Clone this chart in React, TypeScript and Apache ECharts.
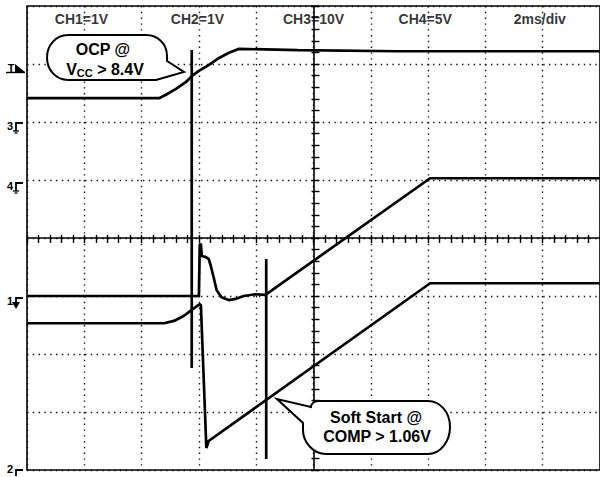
import React, { useEffect, useRef } from "react";
import * as echarts from "echarts";

const FONT = "'Liberation Sans', Arial, Helvetica, sans-serif";

// Horizontal axis: time in ms (2 ms/div, 10 div). Vertical axis: screen divisions (-4..4).
const headerLabels = ["CH1=1V", "CH2=1V", "CH3=10V", "CH4=5V", "2ms/div"];
const headerT = [-8.1, -4.05, 0, 3.9, 7.9];
const headerY = 3.78;

// CH3 (Vcc)
const ch3T = [-10, -5.39, -5.15, -4.8, -4.45, -4.25, -4.0, -3.66, -3.31, -2.97, -2.62, -0.54, 2.93, 10];
const ch3Y = [2.41, 2.41, 2.47, 2.57, 2.69, 2.79, 2.88, 2.98, 3.1, 3.19, 3.26, 3.24, 3.22, 3.22];

// upper ramp trace
const chAT = [-10, -4.0, -3.97, -3.93, -3.9, -3.76, -3.66, -3.59, -3.48, -3.38, -3.21, -2.96, -2.72, -2.44, -2.03, -1.68, 4.07, 10];
const chAY = [-1.0, -1.0, -0.12, -0.1, -0.31, -0.33, -0.36, -0.47, -0.69, -0.9, -1.02, -1.07, -1.05, -1.0, -0.97, -0.98, 1.03, 1.03];

// lower ramp trace
const chBT = [-10, -5.22, -4.87, -4.52, -4.25, -3.97, -3.93, -3.74, -3.66, 4.07, 10];
const chBY = [-1.47, -1.47, -1.43, -1.34, -1.24, -1.14, -1.16, -3.62, -3.5, -0.78, -0.78];

// cursors
const cursorT = [-4.25, -1.65];
const cursorTop = [3.24, -0.36];
const cursorBottom = [-2.24, -3.81];

const zip = (a: number[], b: number[]) => a.map((v, i) => [v, b[i]]);

echarts.graphic.registerShape(
  "ocpBubble",
  echarts.graphic.extendPath(
    "M 68 35 L 146 35 C 158 35 167 44 167 56 L 167 61 L 184 72 L 156 80 L 68 80 C 56 80 47 70 47 57.5 C 47 45 56 35 68 35 Z",
    {}
  )
);
echarts.graphic.registerShape(
  "ssBubble",
  echarts.graphic.extendPath(
    "M 318 401 L 428 401 C 440 401 450 412 450 427 C 450 442 440 454 428 454 L 326 454 C 313 454 303 442 303 430 L 303 423 L 277 399 L 311 407 C 311 404 314 401 318 401 Z",
    {}
  )
);

function marker(y: number, label: string, kind: string, labelY?: number): any[] {
  const els: any[] = [
    {
      type: "text",
      x: 10,
      y: labelY ?? y + 3,
      style: { text: label, font: `bold 11px ${FONT}`, fill: "#000", align: "center", verticalAlign: "middle" },
    },
    {
      type: "polyline",
      shape: { points: [[23, y], [16, y], [16, y + (kind === "none" ? 6 : 8)]] },
      style: { stroke: "#000", lineWidth: 1.8, fill: "none" },
    },
  ];
  if (kind === "gnd") {
    els.push({ type: "line", shape: { x1: 13, y1: y + 8, x2: 19, y2: y + 8 }, style: { stroke: "#000", lineWidth: 1.3 } });
    els.push({ type: "line", shape: { x1: 14.5, y1: y + 10, x2: 17.5, y2: y + 10 }, style: { stroke: "#000", lineWidth: 1.3 } });
  } else if (kind === "arrow") {
    els.push({ type: "polygon", shape: { points: [[12, y + 4], [20, y + 4], [16, y + 11]] }, style: { fill: "#000" } });
  }
  return els;
}

const hidden = {
  axisLine: { show: false },
  axisTick: { show: false },
  axisLabel: { show: false },
};
const dotted = { show: true, lineStyle: { color: "#111", width: 1.4, type: [1.4, 4.4] } };
const tickLine = { show: true, lineStyle: { color: "#000", width: 1.4, type: "solid" } };

export default function App() {
  const ref = useRef<HTMLDivElement>(null);
  useEffect(() => {
    if (!ref.current) return;
    const chart = echarts.init(ref.current, null, { renderer: "svg" });
    const traceStyle = { color: "#000", width: 2.7 };
    const lineSeries = (data: number[][]) => ({
      type: "line",
      data,
      showSymbol: false,
      symbol: "none",
      lineStyle: traceStyle,
      silent: true,
      z: 5,
    });
    chart.setOption({
      animation: false,
      backgroundColor: "#fff",
      grid: [
        {
          left: 27,
          top: 6,
          width: 577,
          height: 464,
          show: true,
          borderColor: "#000",
          borderWidth: 1.6,
          backgroundColor: "#fff",
        },
        // strip around the horizontal centre line: its split lines are the minor ticks
        { left: 27, top: 235, width: 577, height: 8 },
        // strip around the vertical centre line
        { left: 311.5, top: 6, width: 8, height: 464 },
      ],
      xAxis: [
        {
          type: "value",
          min: -10,
          max: 10,
          interval: 2,
          gridIndex: 0,
          axisLine: { show: true, onZero: true, lineStyle: { color: "#000", width: 1.6 } },
          axisTick: { show: false },
          axisLabel: { show: false },
          splitLine: dotted,
        },
        { type: "value", min: -10, max: 10, interval: 0.4, gridIndex: 1, ...hidden, splitLine: tickLine },
        { type: "value", min: -1, max: 1, gridIndex: 2, ...hidden, splitLine: { show: false } },
      ],
      yAxis: [
        {
          type: "value",
          min: -4,
          max: 4,
          interval: 1,
          gridIndex: 0,
          axisLine: { show: true, onZero: true, lineStyle: { color: "#000", width: 1.6 } },
          axisTick: { show: false },
          axisLabel: { show: false },
          splitLine: dotted,
        },
        { type: "value", min: -1, max: 1, gridIndex: 1, ...hidden, splitLine: { show: false } },
        { type: "value", min: -4, max: 4, interval: 0.2, gridIndex: 2, ...hidden, splitLine: tickLine },
      ],
      series: [
        lineSeries(zip(ch3T, ch3Y)),
        lineSeries(zip(chAT, chAY)),
        lineSeries(zip(chBT, chBY)),
        ...cursorT.map((t, i) => lineSeries([[t, cursorTop[i]], [t, cursorBottom[i]]])),
        {
          type: "scatter",
          symbolSize: 0,
          silent: true,
          data: headerT.map((t, i) => [t, headerY, headerLabels[i]]),
          label: {
            show: true,
            position: "inside",
            formatter: (p: any) => p.value[2],
            color: "#000",
            fontWeight: "bold",
            fontSize: 14,
            fontFamily: FONT,
          },
          z: 6,
        },
      ],
      graphic: [
        { type: "text", x: 11, y: 68, style: { text: "T", font: `bold 11px ${FONT}`, fill: "#000", align: "center", verticalAlign: "middle" } },
        { type: "polygon", shape: { points: [[15, 64], [25, 72], [15, 72]] }, style: { fill: "#000" } },
        { type: "line", shape: { x1: 6, y1: 72.5, x2: 25, y2: 72.5 }, style: { stroke: "#000", lineWidth: 1.4 } },
        ...marker(123, "3", "gnd"),
        ...marker(183, "4", "gnd"),
        ...marker(298, "1", "arrow"),
        ...marker(470, "2", "none", 469),
        {
          type: "ocpBubble",
          x: 0,
          y: 0,
          z: 100,
          style: { fill: "#fff", stroke: "#000", lineWidth: 2 },
        },
        {
          type: "text",
          x: 103,
          y: 49,
          z: 101,
          style: { text: "OCP @", font: `bold 16px ${FONT}`, fill: "#000", align: "center", verticalAlign: "middle" },
        },
        {
          type: "text",
          x: 105,
          y: 69,
          z: 101,
          style: {
            text: "{v|V}{s|CC}{v| > 8.4V}",
            align: "center",
            verticalAlign: "middle",
            rich: {
              v: { fontSize: 16, fontWeight: "bold", fontFamily: FONT, fill: "#000", lineHeight: 18 },
              s: { fontSize: 11, fontWeight: "bold", fontFamily: FONT, fill: "#000", padding: [7, 0, 0, 0] },
            },
          },
        },
        {
          type: "ssBubble",
          x: 0,
          y: 0,
          z: 100,
          style: { fill: "#fff", stroke: "#000", lineWidth: 2 },
        },
        {
          type: "text",
          x: 376,
          y: 417,
          z: 101,
          style: { text: "Soft Start @", font: `bold 16px ${FONT}`, fill: "#000", align: "center", verticalAlign: "middle" },
        },
        {
          type: "text",
          x: 377,
          y: 436,
          z: 101,
          style: { text: "COMP > 1.06V", font: `bold 16px ${FONT}`, fill: "#000", align: "center", verticalAlign: "middle" },
        },
      ],
    });
    return () => chart.dispose();
  }, []);
  return (
    <div
      ref={ref}
      style={{ position: "absolute", left: 0, top: 0, width: 600, height: 477, background: "#fff" }}
    />
  );
}
